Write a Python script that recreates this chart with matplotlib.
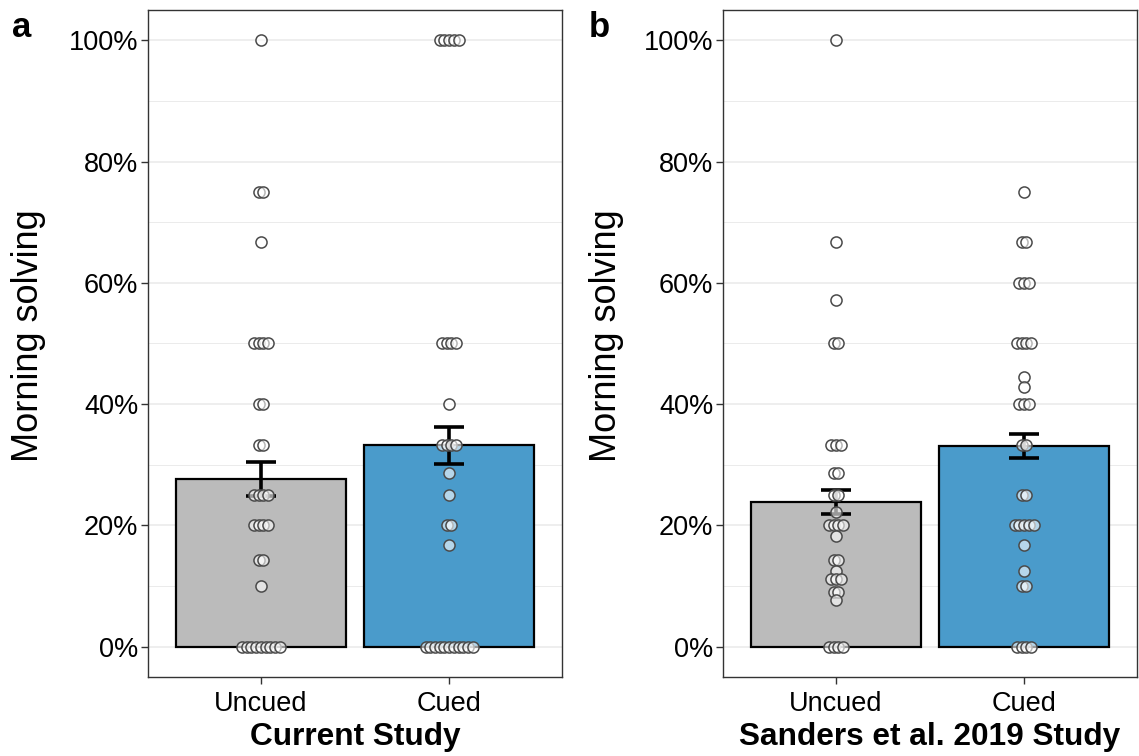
import matplotlib
matplotlib.use("Agg")
import matplotlib.pyplot as plt
import matplotlib.ticker as plticker
import numpy as np

plt.rcParams['font.family'] = ['Liberation Sans', 'DejaVu Sans']

# Data (morning solving, %)
conditions = ['Uncued', 'Cued']

current_uncued = [100, 75, 75, 66.7, 50, 50, 50, 50, 40, 40, 33.3, 33.3,
                  25, 25, 25, 25, 20, 20, 20, 20, 14.3, 14.3, 10,
                  0, 0, 0, 0, 0, 0, 0, 0, 0]
current_cued = [100, 100, 100, 100, 100, 50, 50, 50, 50, 40,
                33.3, 33.3, 33.3, 33.3, 28.6, 25, 20, 20, 16.7,
                0, 0, 0, 0, 0, 0, 0, 0, 0, 0, 0]
current_means = [27.6, 33.2]
current_se = [2.8, 3.0]

sanders_uncued = [100, 66.7, 57.1, 50, 50, 33.3, 33.3, 33.3, 28.6, 28.6,
                  25, 25, 22.2, 20, 20, 20, 20, 18.2, 14.3, 14.3, 12.5,
                  11.1, 11.1, 11.1, 9.1, 9.1, 7.7, 0, 0, 0, 0]
sanders_cued = [75, 66.7, 66.7, 60, 60, 60, 50, 50, 50, 50, 44.4, 42.9,
                40, 40, 40, 33.3, 33.3, 25, 25, 20, 20, 20, 20, 20,
                16.7, 12.5, 10, 10, 0, 0, 0, 0]
sanders_means = [23.9, 33.1]
sanders_se = [1.95, 2.0]

bar_colors = ['#BBBBBB', '#4A9BCB']

W, H = 1139, 756
fig = plt.figure(figsize=(W / 100, H / 100), dpi=100)


def px_axes(left, top, right, bottom):
    return fig.add_axes([left / W, 1 - bottom / H, (right - left) / W, (bottom - top) / H])


def spread(values, step=0.025):
    """Small horizontal offsets so identical values sit side by side."""
    values = np.asarray(values, dtype=float)
    offs = np.zeros(len(values))
    for v in np.unique(values):
        idx = np.where(values == v)[0]
        k = len(idx)
        offs[idx] = (np.arange(k) - (k - 1) / 2) * step
    return offs


def panel(ax, groups, means, ses, xtitle):
    x = np.arange(len(conditions))
    ax.bar(x, means, width=0.9, color=bar_colors, edgecolor='black',
           linewidth=1.6, zorder=2)
    ax.errorbar(x, means, yerr=ses, fmt='none', ecolor='black',
                elinewidth=2.6, capsize=10.5, capthick=2.6, zorder=3)
    for i, vals in enumerate(groups):
        xs = i + spread(vals)
        ax.scatter(xs, vals, s=64, facecolor=(1, 1, 1, 0.6),
                   edgecolor='#4a4a4a', linewidth=1.1, zorder=4)

    ax.set_xlim(-0.6, 1.6)
    ax.set_ylim(-5, 105)
    ax.set_xticks(x)
    ax.set_xticklabels(conditions, fontsize=19.5)
    ax.yaxis.set_major_locator(plticker.MultipleLocator(20))
    ax.yaxis.set_minor_locator(plticker.MultipleLocator(10))
    ax.yaxis.set_major_formatter(plticker.FuncFormatter(lambda v, p: '%d%%' % v))
    ax.tick_params(axis='y', labelsize=19.5, pad=2)
    ax.tick_params(axis='x', pad=5)
    ax.tick_params(which='major', length=5, width=1, color='#333333')
    ax.tick_params(which='minor', length=0)
    ax.grid(which='major', axis='y', color='#EBEBEB', linewidth=1.2)
    ax.grid(which='minor', axis='y', color='#EBEBEB', linewidth=0.7)
    ax.set_axisbelow(True)
    for s in ax.spines.values():
        s.set_color('#333333')
        s.set_linewidth(1.0)
    ax.set_xlabel(xtitle, fontsize=22.8, fontweight='bold', labelpad=4)


ax_a = px_axes(148, 10, 562, 677)
panel(ax_a, [current_uncued, current_cued], current_means, current_se, 'Current Study')
ax_b = px_axes(723, 10, 1137, 677)
panel(ax_b, [sanders_uncued, sanders_cued], sanders_means, sanders_se, 'Sanders et al. 2019 Study')

# y titles and panel letters
fig.text(29 / W, 1 - 336 / H, 'Morning solving', rotation=90, fontsize=26,
         ha='center', va='center')
fig.text(606 / W, 1 - 336 / H, 'Morning solving', rotation=90, fontsize=26,
         ha='center', va='center')
fig.text(12 / W, 1 - 37 / H, 'a', fontsize=25, fontweight='bold', ha='left', va='baseline')
fig.text(589 / W, 1 - 37 / H, 'b', fontsize=25, fontweight='bold', ha='left', va='baseline')

fig.savefig('out.png', dpi=100)
